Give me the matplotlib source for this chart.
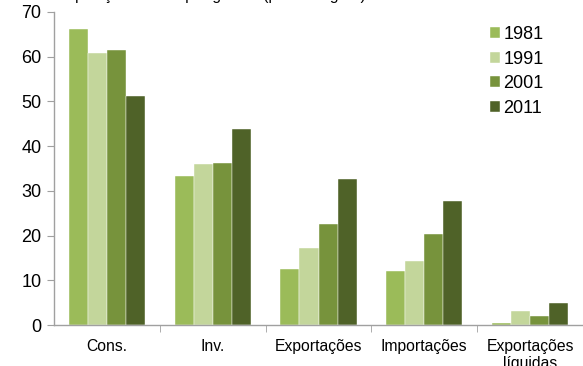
import matplotlib
matplotlib.use("Agg")
import matplotlib.pyplot as plt
import numpy as np

plt.rcParams['font.family'] = ['Liberation Sans', 'DejaVu Sans']

categories = ["Cons.", "Inv.", "Exportações", "Importações", "Exportações\nlíquidas"]
years = ["1981", "1991", "2001", "2011"]
values = {
    "1981": [66.2, 33.3, 12.6, 12.1, 0.4],
    "1991": [60.9, 36.1, 17.3, 14.3, 3.1],
    "2001": [61.5, 36.2, 22.5, 20.4, 2.0],
    "2011": [51.2, 43.8, 32.6, 27.7, 4.9],
}
colors = ["#9BBB59", "#C3D69B", "#77933C", "#4F6228"]
title = "Composição do PIB por gastos (percentagem)"

fig = plt.figure(figsize=(5.83, 3.66), dpi=100)
ax = fig.add_axes([54/583, 1-325/366, 529/583, 313/366])

x = np.arange(len(categories))
w = 0.18
for i, (yr, c) in enumerate(zip(years, colors)):
    ax.bar(x + (i - 1.5) * w, values[yr], width=w, color=c, label=yr,
           edgecolor='white', linewidth=0.3)

ax.set_xlim(-0.5, len(categories) - 0.5)
ax.set_ylim(0, 70)
ax.set_yticks(range(0, 71, 10))
ax.tick_params(axis='y', labelsize=13, length=5, color='#A0A0A0', pad=4)
ax.set_xticks(x)
ax.set_xticklabels(categories, fontsize=11.3)
ax.tick_params(axis='x', length=0, pad=10)
ax.set_xticks(np.arange(0.5, len(categories) - 0.5, 1), minor=True)
ax.tick_params(axis='x', which='minor', length=5, color='#A0A0A0')

for s in ['top', 'right']:
    ax.spines[s].set_visible(False)
for s in ['left', 'bottom']:
    ax.spines[s].set_color('#A0A0A0')
    ax.spines[s].set_linewidth(1.0)

leg = ax.legend(loc='upper left', bbox_to_anchor=(490/583, 1-26/366),
                bbox_transform=fig.transFigure, frameon=False, fontsize=13,
                handlelength=0.55, handleheight=0.55, handletextpad=0.2,
                labelspacing=0.42, borderaxespad=0, borderpad=0)

fig.text(42/583, 1.0, title, fontsize=11.3, va='baseline', ha='left')

fig.savefig("out.png", dpi=100)
